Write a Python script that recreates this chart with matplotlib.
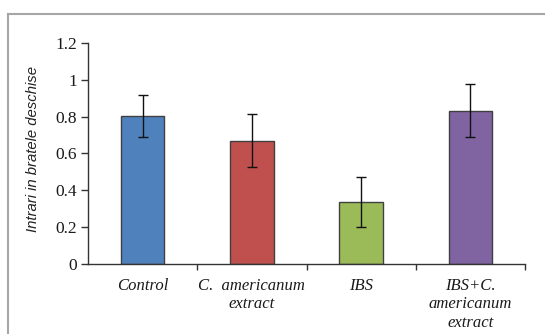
import matplotlib
matplotlib.use("Agg")
import matplotlib.pyplot as plt
from matplotlib.lines import Line2D
from matplotlib.ticker import FuncFormatter

categories = ["Control", "C.  americanum\nextract", "IBS", "IBS+C.\namericanum\nextract"]
values = [0.803, 0.668, 0.337, 0.832]
errors = [0.112, 0.144, 0.138, 0.144]
colors = ["#4F81BD", "#C0504D", "#9BBB59", "#8064A2"]
y_ticks = [0, 0.2, 0.4, 0.6, 0.8, 1.0, 1.2]
y_label = "Intrari in bratele deschise"

fig = plt.figure(figsize=(5.45, 3.34), dpi=100)
ax = fig.add_axes([0.1615, 0.2096, 0.9633 - 0.1615, 0.8713 - 0.2096])

x = list(range(len(categories)))
ax.bar(x, values, width=0.4, color=colors, edgecolor="#404040", linewidth=1.0, zorder=2)
ax.errorbar(x, values, yerr=errors, fmt="none", ecolor="#111111", elinewidth=1.0,
            capsize=3.5, capthick=1.0, zorder=3)

ax.set_xlim(-0.5, len(categories) - 0.5)
ax.set_ylim(0, 1.2)
ax.set_yticks(y_ticks)
ax.yaxis.set_major_formatter(FuncFormatter(lambda v, p: f"{v:g}"))

ax.set_xticks(x)
ax.set_xticklabels(categories, fontfamily="Liberation Serif", fontstyle="italic",
                   fontsize=12, color="#1a1a1a", linespacing=1.2)
ax.set_xticks([k + 0.5 for k in x], minor=True)
ax.tick_params(axis="x", which="major", length=0, pad=10)
ax.tick_params(axis="x", which="minor", length=4, width=1.0, direction="out", color="#333333")
ax.tick_params(axis="y", length=5, width=1.0, direction="out", color="#333333", pad=3)
for lbl in ax.get_yticklabels():
    lbl.set_fontfamily("Liberation Serif")
    lbl.set_fontsize(12.5)
    lbl.set_color("#1a1a1a")

for side in ("top", "right"):
    ax.spines[side].set_visible(False)
for side in ("left", "bottom"):
    ax.spines[side].set_color("#333333")
    ax.spines[side].set_linewidth(1.0)

ax.set_ylabel(y_label, fontfamily="Liberation Sans", fontstyle="italic", fontsize=10.7,
              color="#222222")
ax.yaxis.set_label_coords(-0.11, 0.52)

# light frame around the chart area (left and top edges)
fx = 7.5 / 545
fy = 1 - 13.5 / 334
fig.add_artist(Line2D([fx, fx], [0, fy], transform=fig.transFigure, color="#a6a6a6", linewidth=1.5))
fig.add_artist(Line2D([fx, 1], [fy, fy], transform=fig.transFigure, color="#a6a6a6", linewidth=1.5))

fig.savefig("out.png", dpi=100)
